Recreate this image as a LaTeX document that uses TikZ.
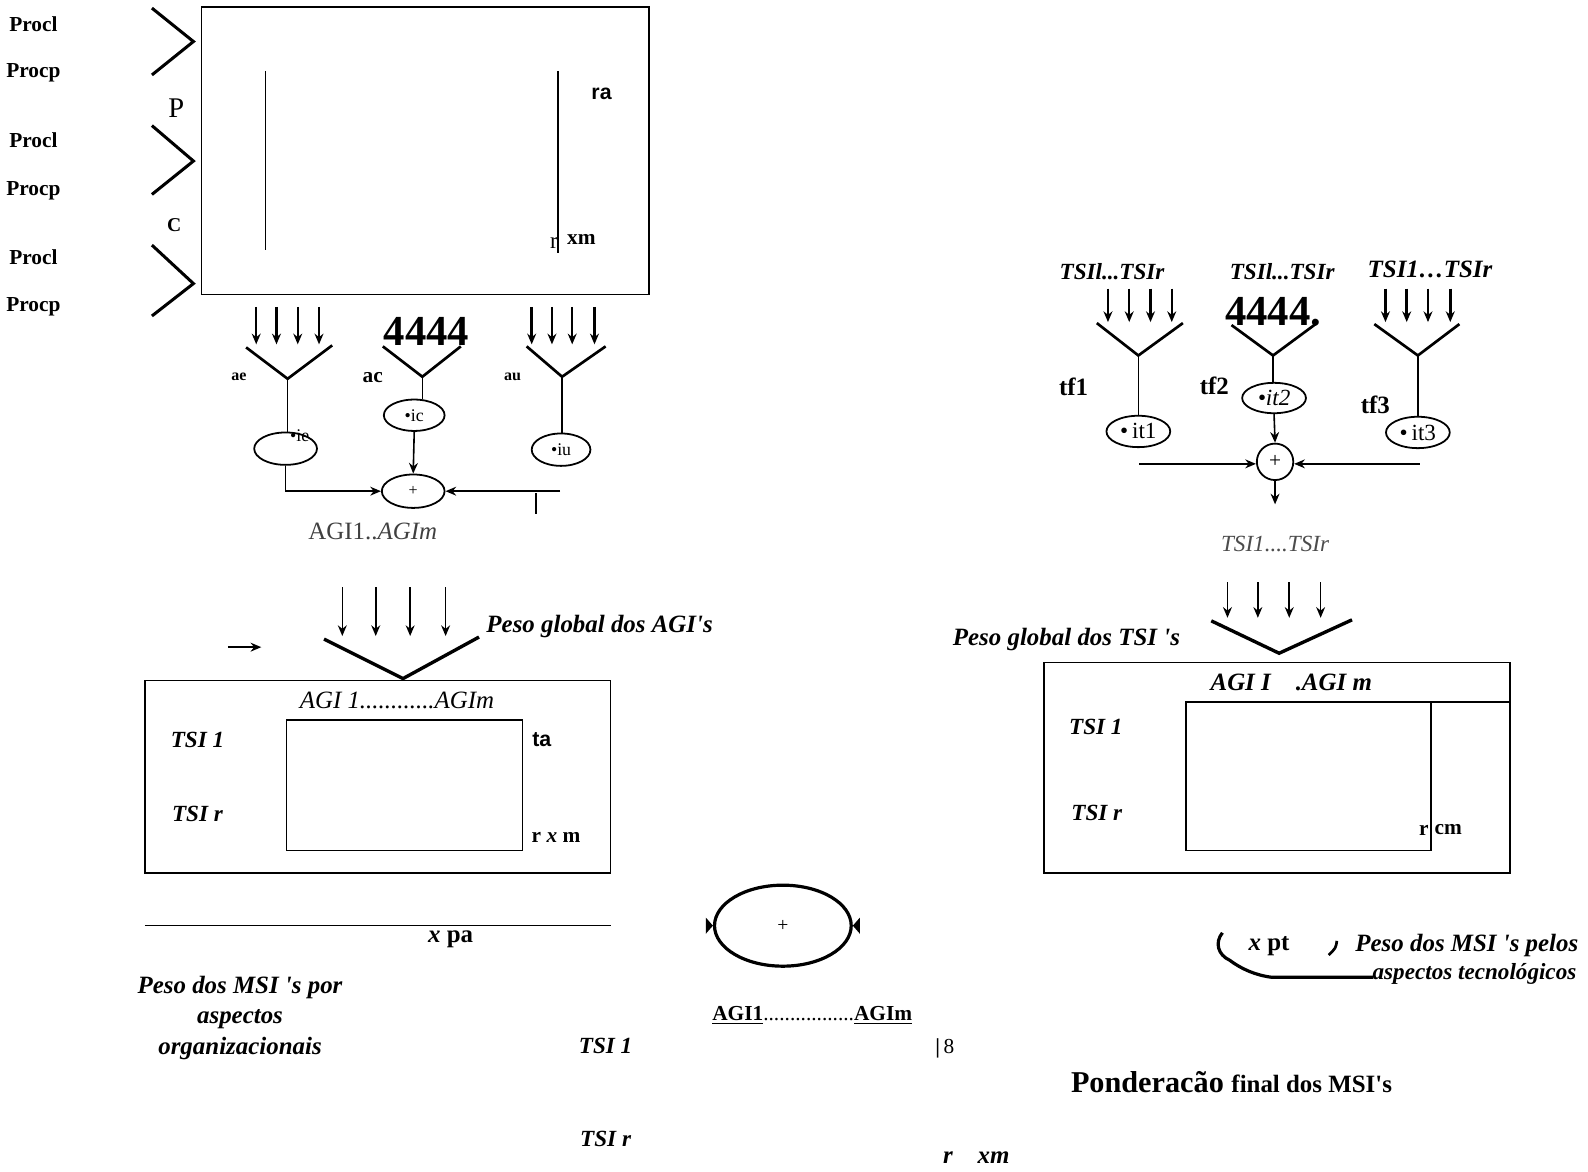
\documentclass[tikz,border=0pt]{standalone}
\usepackage{fontspec}
\setmainfont{Liberation Serif}
\newfontfamily\sansf{Liberation Sans}
\usetikzlibrary{arrows.meta,shapes.geometric,positioning}
\newcommand{\fsz}[1]{\fontsize{#1}{#1}\selectfont}
\newcommand{\ap}{\textquotesingle}
\tikzset{
  fork/.style={line width=1.5pt},
  stem/.style={line width=0.9pt},
  feed/.style={->, line width=1.4pt},
  feedthin/.style={->, line width=0.9pt},
  bub/.style={draw, ellipse, line width=1pt, inner sep=0pt, minimum width=1.24cm, minimum height=0.64cm},
  lbl/.style={inner sep=0pt, font=\bfseries\fsz{12}},
  tsi/.style={inner sep=0pt, font=\bfseries\itshape\fsz{13}},
}

\begin{document}
\begin{tikzpicture}[x=0.02cm, y=-0.02cm, >={Stealth[length=6pt,width=5pt]}]
    \useasboundingbox (0,0) rectangle (1568,1157);

    % processes into the first matrix
    \foreach \ya/\yb/\yc in {8/41/74, 124/159/192, 242/280/312}
        \draw[line width=1.7pt] (150,\ya) -- (191,\yb) -- (150,\yc);
    \foreach \y/\t [count=\i] in {24/Procl,72/Procp,138/Procl,188/Procp,254/Procl,303/Procp}
        \node[lbl] (proc\i) at (33,\y) {\t};
    \node[inner sep=0pt, font=\fsz{16}] (pP) at (174,107) {P};
    \node[lbl, font=\bfseries\fsz{11}] (pC) at (172,222) {C};

    \draw[line width=0.8pt] (199,7) rectangle (641,291);
    \draw[line width=0.8pt] (262,70) -- (262,247);
    \draw[line width=0.8pt] (551,70) -- (551,250);
    \node[lbl, font=\sansf\bfseries\fsz{12}] (ra) at (594,93) {ra};
    \node[inner sep=0pt, font=\fsz{13}] (rr) at (547,240) {r};
    \node[lbl] (xma) at (574,236) {xm};

    % aspects ae, ac, au
    \foreach \x in {253,273,294,315,525,545,565,587}
        \draw[feed] (\x,303) -- (\x,340);
    \node[inner sep=0pt, font=\bfseries\fsz{24}] (qa) at (421,327) {4444};

    \draw[fork] (243,343) -- (284,374) coordinate (vae) -- (328,341);
    \draw[fork] (378,342) -- (417,372) coordinate (vac) -- (455,342);
    \draw[fork] (520,342) -- (555,372) coordinate (vau) -- (598,342);
    \node[lbl, font=\bfseries\fsz{9}] (lae) at (236,372) {ae};
    \node[lbl] (lac) at (368,373) {ac};
    \node[lbl, font=\bfseries\fsz{9}] (lau) at (506,372) {au};

    \node[bub] (ie) at (282,443) {};
    \node[inner sep=0pt, font=\fsz{10}] (tie) at (296,430) {•ie};
    \node[bub, minimum width=1.2cm, minimum height=0.62cm, font=\fsz{10}] (ic) at (409,410) {•ic};
    \node[bub, minimum width=1.16cm, minimum height=0.64cm, font=\fsz{10}] (iu) at (554,444) {•iu};
    \node[bub, minimum width=1.24cm, minimum height=0.66cm, font=\fsz{9}] (suma) at (408,485) {+};

    \draw[stem] (vae) -- (vae |- ie.north);
    \draw[stem] (vac) -- (vac |- ic.north);
    \draw[stem] (vau) -- (vau |- iu.north);
    \draw[stem,->] (ie.south) |- (suma.west);
    \draw[stem,->] (ic.south) -- (suma.north);
    \coordinate (iuout) at (553,485);
    \draw[stem,->] (iuout) -- (suma.east);
    \draw[line width=1.2pt] (529,487) -- (529,508);
    \node[inner sep=0pt, font=\fsz{14}, text=black!75] (agis) at (368,525) {AGI1..\textit{AGIm}};

    % global weight of the AGIs
    \foreach \x in {338,371,405,440}
        \draw[feedthin] (\x,580) -- (\x,628);
    \draw[fork, line width=1.9pt] (320,631) -- (398,670) coordinate (vagi) -- (473,629);
    \node[anchor=west, inner sep=0pt, font=\bfseries\itshape\fsz{14}] (pgagi) at (480,619) {Peso global dos AGI\ap s};
    \coordinate (pa0) at (225,639);
    \coordinate (pa1) at (258,639);
    \draw[feed, line width=1.1pt] (pa0) -- (pa1);

    % TSI x AGI matrix, organizational side
    \draw[line width=0.8pt] (143,672) rectangle (603,862);
    \draw[line width=0.8pt] (283,711) rectangle (516,840);
    \node[inner sep=0pt, font=\itshape\fsz{14}] (agiha) at (392,692) {AGI 1............AGIm};
    \node[tsi] (tsia1) at (195,731) {TSI 1};
    \node[tsi] (tsiar) at (195,804) {TSI r};
    \node[lbl, font=\sansf\bfseries\fsz{12}] (ta) at (535,730) {ta};
    \node[lbl] (rxmb) at (549,827) {r \textit{x} m};

    % organizational weighting
    \draw[line width=0.9pt] (143,914) -- (603,914);
    \node[lbl, font=\bfseries\fsz{14}] (xpa) at (445,927) {\textit{x} pa};
    \node[inner sep=0pt, align=center, font=\bfseries\itshape\fontsize{14}{17}\selectfont] (pmsio) at (237,1005)
        {Peso dos MSI \ap s por\\aspectos\\organizacionais};

    % final sum
    \node[draw, ellipse, line width=1.8pt, minimum width=2.7cm, minimum height=1.6cm, inner sep=0pt, font=\fsz{11}] (sumc) at (773,914) {+};
    \fill (sumc.west) -- ++(-7,-8) -- ++(0,16) -- cycle;
    \fill (sumc.east) -- ++(7,-8) -- ++(0,16) -- cycle;
    \node[inner sep=0pt, font=\bfseries\fsz{12}] (agif) at (802,1003) {\underline{AGI1}{\mdseries.................}\underline{AGIm}};
    \node[tsi] (tsib1) at (598,1033) {TSI 1};
    \node[tsi] (tsibr) at (598,1125) {TSI r};
    \node[inner sep=0pt, font=\fsz{12}] (bar8) at (933,1035) {\textbf{|}\,8};
    \node[tsi, font=\bfseries\itshape\fsz{14}] (rxmc) at (964,1143) {r\quad xm};

    % technological aspects
    \node[tsi] (tsl1) at (1098,268) {TSIl...TSIr};
    \node[tsi] (tsl2) at (1266,268) {TSIl...TSIr};
    \node[tsi, font=\bfseries\itshape\fsz{14}] (tsl3) at (1412,266) {TSI1…TSIr};
    \foreach \x in {1094,1115,1136,1157,1368,1389,1410,1432}
        \draw[feed] (\x,285) -- (\x,318);
    \node[inner sep=0pt, font=\bfseries\fsz{24}] (qb) at (1257,308) {4444.};

    \draw[fork] (1083,319) -- (1124,351) coordinate (vt1) -- (1168,319);
    \draw[fork] (1216,321) -- (1257,351) coordinate (vt2) -- (1299,320);
    \draw[fork] (1357,320) -- (1400,351) coordinate (vt3) -- (1441,320);
    \node[lbl, font=\bfseries\fsz{14}] (tf1) at (1060,382) {tf1};
    \node[lbl, font=\bfseries\fsz{14}] (tf2) at (1199,381) {tf2};
    \node[lbl, font=\bfseries\fsz{14}] (tf3) at (1358,400) {tf3};

    \node[bub, minimum width=1.26cm, minimum height=0.62cm, font=\fsz{13}] (it1) at (1124,426) {•\,it1};
    \node[bub, minimum width=1.26cm, minimum height=0.6cm, font=\itshape\fsz{13}] (it2) at (1258,393) {•it2};
    \node[bub, minimum width=1.26cm, minimum height=0.62cm, font=\fsz{13}] (it3) at (1400,427) {•\,it3};
    \node[draw, circle, line width=1pt, minimum size=0.72cm, inner sep=0pt, font=\fsz{12}] (sumb) at (1259,456) {+};

    \draw[stem] (vt1) -- (vt1 |- it1.north);
    \draw[stem] (vt2) -- (vt2 |- it2.north);
    \draw[stem] (vt3) -- (vt3 |- it3.north);
    \draw[stem,->] (it2.south) -- (sumb.north);
    \coordinate (tl) at (1125,458);
    \coordinate (tr) at (1402,458);
    \draw[stem,->] (tl) -- (tl -| sumb.west);
    \draw[stem,->] (tr) -- (tr -| sumb.east);
    \coordinate (sdown) at (1259,498);
    \draw[stem,->] (sumb.south) -- (sdown);
    \node[inner sep=0pt, font=\itshape\fsz{13}, text=black!70] (tsis) at (1259,537) {TSI1....TSIr};

    % global weight of the TSIs
    \foreach \x in {1212,1242,1273,1304}
        \draw[feedthin] (\x,575) -- (\x,610);
    \draw[fork, line width=1.9pt] (1196,613) -- (1263,645) coordinate (vtsi) -- (1335,612);
    \node[inner sep=0pt, font=\bfseries\itshape\fsz{14}] (pgtsi) at (1053,631) {Peso global dos TSI \ap s};

    % TSI x AGI matrix, technological side
    \draw[line width=0.8pt] (1031,654) rectangle (1491,862);
    \draw[line width=0.8pt] (1171,693) rectangle (1413,840);
    \draw[line width=0.8pt] (1413,693) -- (1491,693);
    \node[tsi, font=\bfseries\itshape\fsz{14}] (agihb) at (1275,674) {AGI I\quad.AGI m};
    \node[tsi] (tsic1) at (1082,718) {TSI 1};
    \node[tsi] (tsicr) at (1083,803) {TSI r};
    \node[lbl] (rcr) at (1406,820) {r};
    \node[lbl] (rcm) at (1430,819) {cm};

    % technological weighting
    \draw[line width=1.8pt] (1207,921) .. controls (1199,931) and (1203,943) .. (1214,948)
        .. controls (1226,957) and (1240,963) .. (1256,965) -- (1356,965);
    \draw[line width=1.5pt] (1320,929) .. controls (1319,936) .. (1312,943);
    \node[lbl, font=\bfseries\fsz{14}] (xpt) at (1253,934) {\textit{x} pt};
    \node[anchor=west, inner sep=0pt, font=\bfseries\itshape\fsz{14}] (pmsit) at (1338,934) {Peso dos MSI \ap s pelos};
    \node[anchor=west, inner sep=0pt, font=\bfseries\itshape\fsz{13}] (aspt) at (1355,962) {aspectos tecnológicos};

    % final weighting
    \node[inner sep=0pt, font=\bfseries] (pond) at (1216,1068) {\fsz{17}Ponderacão \fsz{14}final dos MSI\ap s};
\end{tikzpicture}
\end{document}
